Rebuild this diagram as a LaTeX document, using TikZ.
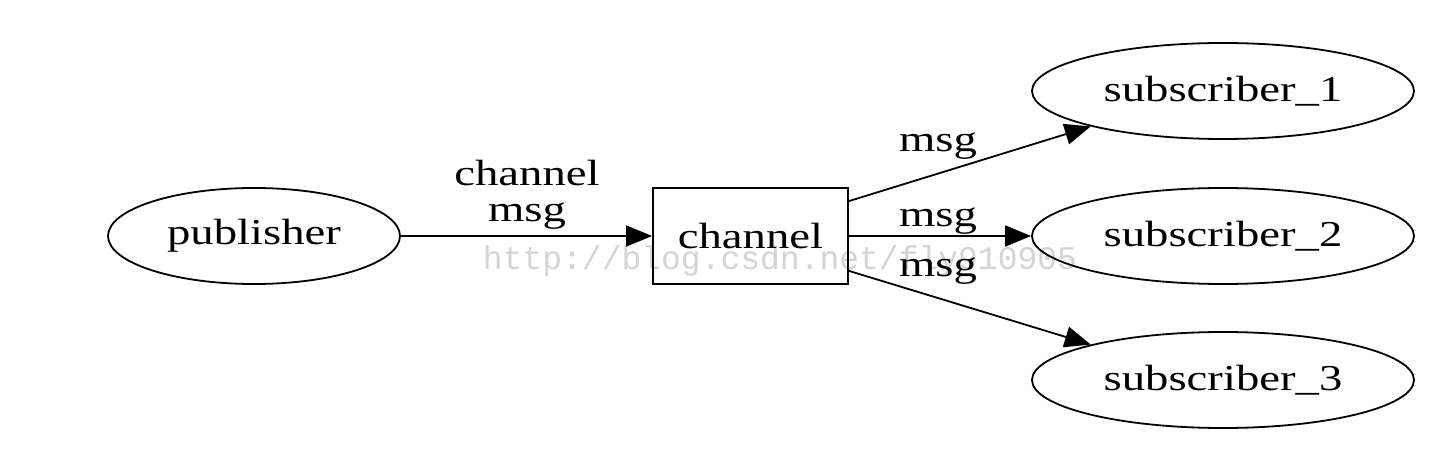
\documentclass[tikz,border=0pt]{standalone}
\usepackage{fontspec}
\setmainfont{Liberation Serif}[FakeStretch=1.28]
\newfontfamily\wmfont{Liberation Mono}
\usetikzlibrary{shapes.geometric,arrows.meta}
\begin{document}
\begin{tikzpicture}[x=1pt,y=-1pt,
  every node/.style={font=\fontsize{36.5}{42}\selectfont, inner sep=0pt},
  ell/.style={draw, line width=1.8pt, ellipse, minimum height=96pt},
  boxnode/.style={draw, line width=1.8pt, rectangle, minimum width=195pt, minimum height=96pt},
  edge/.style={line width=1.8pt, -{Triangle[length=26pt,width=21pt]}},
  lbl/.style={anchor=base},
  wm/.style={font=\wmfont\fontsize{33}{40}\selectfont, text=black!17, anchor=base}]
\useasboundingbox[fill=white] (0,0) rectangle (1456,462);
\node[wm] (wm) at (780,270) {http://blog.csdn.net/fly910905};
\node[ell, minimum width=292pt] (pub) at (254,236) {publisher};
\node[boxnode] (ch) at (750.5,236) {channel};
\node[ell, minimum width=382pt] (s1) at (1223,91) {subscriber\_1};
\node[ell, minimum width=382pt] (s2) at (1223,236) {subscriber\_2};
\node[ell, minimum width=382pt] (s3) at (1223,380) {subscriber\_3};
\draw[edge] (pub.east) -- (ch.west);
\draw[edge] ([yshift=-14pt]ch.north east) -- (s1.195);
\draw[edge] (ch.east) -- (s2.west);
\draw[edge] ([yshift=14pt]ch.south east) -- (s3.165);
\node[lbl] (l0a) at (527,186) {channel};
\node[lbl] (l0b) at (527,222) {msg};
\node[lbl] (l1) at (938,152) {msg};
\node[lbl] (l2) at (938,227) {msg};
\node[lbl] (l3) at (938,277) {msg};
\end{tikzpicture}
\end{document}
